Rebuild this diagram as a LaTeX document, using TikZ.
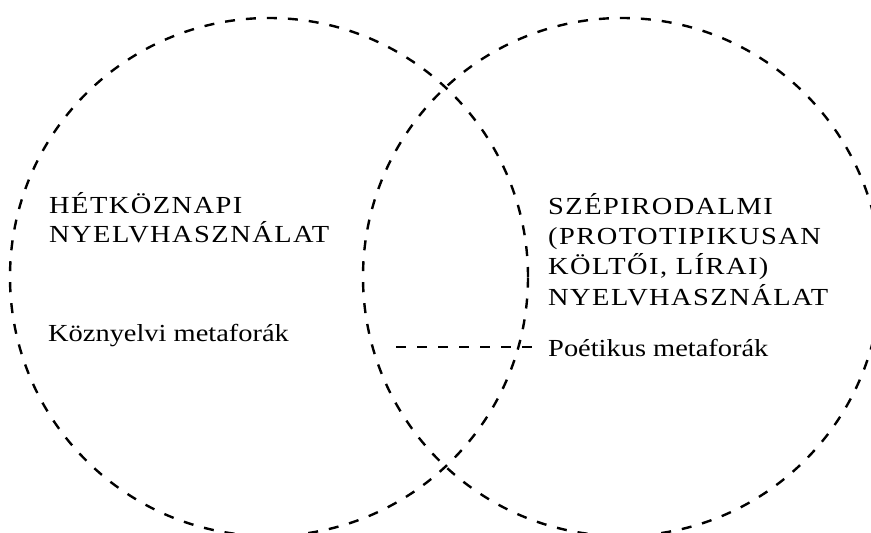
\documentclass[tikz,border=0pt]{standalone}
\usepackage{fontspec}
\setmainfont{Liberation Serif}
\newfontfamily\widefont{Liberation Serif}[FakeStretch=1.16]
\newfontfamily\widecaps{Liberation Serif}[FakeStretch=1.16,LetterSpace=6]
\begin{document}
\begin{tikzpicture}[x=1pt,y=-1pt,
  venn/.style={circle,draw,dash pattern=on 10pt off 11pt,line width=2.4pt,minimum size=518pt,inner sep=0pt},
  link/.style={draw,dash pattern=on 10pt off 11pt,line width=2.4pt},
  capstext/.style={anchor=base west,inner sep=0pt,align=left,font=\widecaps\fontsize{24.5}{29}\selectfont},
  plaintext/.style={anchor=base west,inner sep=0pt,font=\widefont\fontsize{24.5}{29}\selectfont}]
\useasboundingbox (0,0) rectangle (871,533);
\node[venn] (L) at (269,277) {};
\node[venn] (R) at (622,277) {};
\node[capstext] (lt) at (49,242) {HÉTKÖZNAPI\\NYELVHASZNÁLAT};
\node[plaintext] (lm) at (48,341) {Köznyelvi metaforák};
\node[capstext,font=\widecaps\fontsize{24.5}{30.3}\selectfont] (rt) at (548,305) {SZÉPIRODALMI\\(PROTOTIPIKUSAN\\KÖLTŐI, LÍRAI)\\NYELVHASZNÁLAT};
\node[plaintext] (rm) at (548,356) {Poétikus metaforák};
\coordinate (ls) at (396,347);
\draw[link] (ls) -- ([xshift=-15pt]ls -| rm.west);
\end{tikzpicture}
\end{document}
